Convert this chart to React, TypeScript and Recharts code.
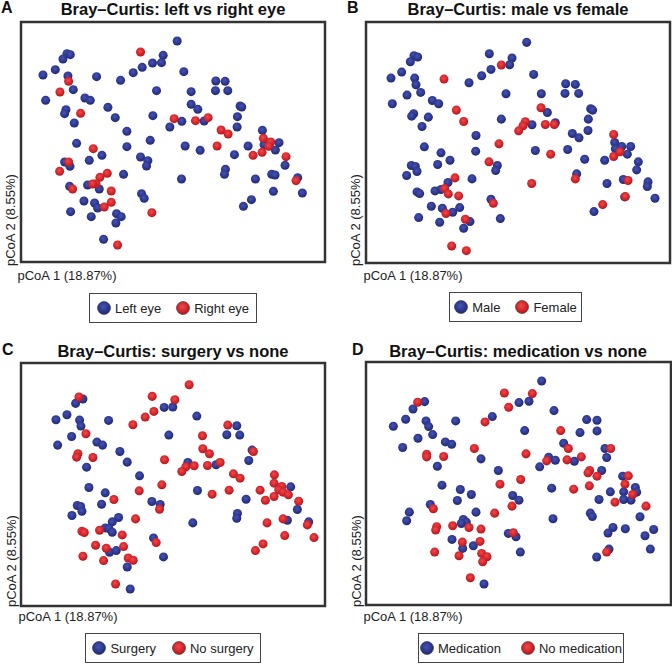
import React from "react";
import { Legend, ReferenceArea, Scatter, ScatterChart, XAxis, YAxis, ZAxis } from "recharts";

type Pt = [number, number];

// PCoA scores [pcoA 1, pcoA 2] (arbitrary units)
const leftEye: Pt[] = [
  [31, 328], [-11, 285], [-16, 263], [-43, 262], [-74, 249], [-101, 233], [-139, 210], [-211, 221],
  [51, 236], [-300, 290], [-290, 287], [-312, 274], [-335, 242], [-372, 226], [-297, 223], [-281, 182],
  [-364, 150], [-246, 157], [-230, 150], [-303, 122], [-307, 110], [-177, 129], [-278, 82], [-155, 98],
  [-31, 179], [73, 176], [147, 208], [175, 207], [146, 179], [183, 179], [73, 138], [93, 123],
  [220, 133], [225, 130], [212, 101], [112, 88], [45, 87], [9, 70], [-42, 104], [-120, 57],
  [211, 70], [287, 60], [292, 17], [337, 23], [326, 1], [244, 13], [55, 13], [100, 0],
  [203, -13], [355, -45], [176, -57], [173, -72], [315, -72], [325, -74], [266, -86], [393, -82],
  [320, -123], [407, -128], [254, -148], [230, -168], [44, -86], [-50, 30], [-120, 11], [-79, -20],
  [-57, -31], [-61, -47], [-130, -72], [-76, -130], [-68, -144], [-271, 21], [-195, -15], [-233, -30],
  [-307, -35], [-291, -48], [-238, -104], [-292, -108], [-203, -116], [-249, -152], [-217, -158], [-208, -173],
  [-289, -184], [-227, -199], [-151, -190], [-137, -199], [-153, -218], [-190, -267],
];
const rightEye: Pt[] = [
  [-79, 295], [-295, 207], [-321, 175], [-259, 111], [124, 98], [86, 89], [22, 95], [163, 61],
  [184, 49], [290, 36], [312, 25], [306, 12], [286, -6], [151, 13], [259, -15], [358, -19],
  [388, -91], [-45, -187], [-221, 5], [-295, -35], [-322, -63], [-179, -69], [-201, -81], [-213, -100],
  [-223, -101], [-283, -116], [-167, -122], [-188, -170], [-167, -156], [-148, -284],
];

const male: Pt[] = [
  [72, 322], [-40, 288], [28, 275], [21, 255], [-35, 241], [-63, 222], [-101, 201], [93, 226],
  [-266, 282], [-255, 278], [-277, 264], [-303, 233], [-335, 215], [-264, 215], [-260, 195], [-246, 172],
  [-287, 164], [-331, 138], [-211, 148], [-192, 138], [-267, 108], [-273, 101], [-223, 98], [-242, 70],
  [10, 168], [-4, 92], [189, 198], [218, 196], [187, 169], [228, 169], [116, 168], [134, 112],
  [264, 123], [270, 119], [257, 92], [88, 75], [158, 81], [-80, 43], [209, 49], [229, 36],
  [256, 58], [336, 22], [357, 10], [384, 10], [338, 3], [374, -13], [306, -31], [98, -2],
  [195, 1], [246, -28], [407, -36], [402, -60], [-81, -4], [-16, -47], [-21, -62], [-92, -87],
  [-235, 9], [-185, -9], [-195, -44], [-158, -31], [-274, -47], [-262, -50], [-257, -65], [-288, -77],
  [-164, -98], [-185, -119], [-203, -123], [-257, -126], [-249, -131], [222, -72], [313, -101], [362, -89],
  [436, -96], [434, -110], [366, -141], [457, -145], [274, -185], [-35, -148], [-7, -206], [-214, -169],
  [-181, -175], [-150, -187], [-129, -173], [-252, -203], [-189, -217], [-98, -215], [-117, -235],
];
const female: Pt[] = [
  [-4, 254], [-176, 212], [-139, 119], [-117, 85], [115, 126], [68, 84], [61, 72], [48, 57],
  [128, 76], [155, 76], [333, 46], [352, -6], [333, -20], [144, -13], [-11, 18], [-41, -36],
  [-143, -84], [-174, -116], [-163, -132], [-132, -138], [87, -101], [218, -87], [376, -92], [368, -140],
  [300, -164], [-28, -160], [-170, -191], [-112, -208], [-153, -288], [-109, -302],
];

const surgery: Pt[] = [
  [-8, 217], [18, 218], [-175, 178], [90, 191], [-252, 242], [-274, 229], [-300, 195], [-333, 180],
  [-262, 179], [-258, 161], [-286, 130], [-328, 104], [-210, 113], [-193, 104], [-141, 85], [-119, 53],
  [-241, 38], [6, 134], [210, 162], [180, 135], [219, 134], [256, 89], [246, 58], [63, 52],
  [148, 45], [-82, 12], [372, -21], [92, -32], [238, -58], [392, -89], [-45, -65], [-20, -74],
  [-234, -23], [-185, -39], [-196, -73], [-269, -77], [-259, -80], [-255, -94], [-285, -107], [-145, -113],
  [-164, -126], [-185, -144], [-174, -146], [-164, -157], [212, -101], [210, -115], [78, -129], [362, -121],
  [426, -126], [-40, -174], [-10, -231], [-172, -217], [-152, -212], [-119, -261], [-110, -327],
];
const noSurgery: Pt[] = [
  [67, 285], [-44, 250], [24, 240], [-39, 205], [-65, 188], [-102, 165], [-264, 248], [-243, 138],
  [-267, 78], [-271, 68], [-222, 67], [-7, 60], [183, 164], [107, 132], [108, 93], [128, 78],
  [260, 85], [82, 42], [57, 39], [45, 25], [122, 43], [160, 52], [200, 18], [220, 5],
  [323, 15], [322, -10], [345, -20], [336, -30], [349, -37], [365, -45], [322, -50], [136, -43],
  [187, -31], [280, -31], [296, -61], [396, -64], [-15, -15], [-83, -33], [-22, -88], [-94, -117],
  [-159, -59], [-202, -151], [-134, -165], [-255, -154], [-248, -158], [301, -129], [349, -117], [422, -135],
  [354, -167], [442, -173], [289, -192], [266, -212], [-32, -188], [-214, -196], [-182, -205], [-130, -200],
  [-252, -229], [-190, -242], [-116, -234], [-101, -241], [-154, -312],
];

const medication: Pt[] = [
  [117, 298], [49, 233], [79, 237], [-31, 191], [-141, 178], [154, 209], [-234, 236], [-269, 214],
  [-291, 183], [-328, 162], [-230, 178], [-222, 161], [-210, 137], [-254, 126], [-300, 98], [-172, 115],
  [-153, 108], [-65, 64], [-196, 42], [66, 149], [252, 182], [283, 180], [232, 143], [283, 148],
  [183, 111], [307, 95], [312, 68], [138, 69], [158, 60], [215, 57], [111, 40], [-13, 29],
  [297, 29], [360, 12], [398, -22], [402, -36], [363, -35], [385, -60], [323, -35], [363, -58],
  [289, -58], [412, -110], [147, -24], [-182, -15], [-127, -28], [-94, -43], [-136, -61], [30, -46],
  [49, -60], [-80, -96], [-217, -73], [-280, -96], [-288, -122], [151, -116], [263, -99], [269, -109],
  [-118, -118], [-109, -126], [-124, -130], [331, -142], [368, -146], [316, -159], [453, -148], [427, -167],
  [443, -207], [17, -160], [40, -170], [-152, -178], [-88, -197], [-120, -205], [53, -216], [319, -207],
  [282, -231], [-56, -312],
];
const noMedication: Pt[] = [
  [5, 262], [89, 260], [18, 219], [-53, 175], [-255, 234], [-228, 78], [-228, 70], [-177, 71],
  [-85, 95], [70, 79], [174, 149], [197, 95], [324, 95], [132, 58], [193, 61], [236, 70],
  [261, 29], [256, 22], [283, 12], [377, 13], [367, -12], [390, -43], [337, -66], [430, -78],
  [260, -17], [213, -27], [54, 2], [-8, -12], [28, -78], [-24, -99], [-208, -86], [-150, -137],
  [-101, -142], [-65, -147], [-198, -140], [-201, -150], [32, -158], [-121, -186], [-68, -184], [-204, -216],
  [-131, -227], [-63, -220], [-47, -230], [-60, -245], [312, -216], [-97, -293],
];

const FONT = '"Liberation Sans", Arial, Helvetica, sans-serif';

interface PanelProps {
  left: number;
  top: number;
  letter: string;
  letterX: number;
  title: string;
  titleX: number;
  baseline: number;
  blue: Pt[];
  red: Pt[];
  blueName: string;
  redName: string;
  xDomain: [number, number];
  yDomain: [number, number];
  margin: { top: number; right: number; bottom: number; left: number };
  yLabelX: number;
  yLabelBottom: number;
  xLabelX: number;
  xLabelTop: number;
  legendBox: { x: number; y: number; w: number; gap: number };
}

// legend keeps the series order (blue first), not alphabetical
const makeLegend = (order: string[], gap: number) => (props: any) => {
  const items = [...(props.payload || [])].sort(
    (a: any, b: any) => order.indexOf(a.value) - order.indexOf(b.value)
  );
  return (
    <div
      style={{
        boxSizing: "border-box",
        width: "100%",
        height: "100%",
        border: "1px solid #444",
        background: "#fff",
        display: "flex",
        alignItems: "center",
        justifyContent: "center",
        gap,
        fontFamily: FONT,
        fontSize: 13,
        color: "#222",
        whiteSpace: "nowrap",
      }}
    >
      {items.map((entry: any) => (
        <span key={entry.value} style={{ display: "flex", alignItems: "center" }}>
          <svg width={14} height={14} style={{ marginRight: 4 }}>
            <circle cx={7} cy={7} r={6.5} fill={entry.color} stroke="#333" strokeWidth={0.6} />
          </svg>
          {entry.value}
        </span>
      ))}
    </div>
  );
};

const Panel: React.FC<PanelProps> = (p) => {
  const blueData = p.blue.map(([x, y]) => ({ x, y }));
  const redData = p.red.map(([x, y]) => ({ x, y }));
  return (
    <div style={{ position: "absolute", left: p.left, top: p.top, width: 336, height: 334, fontFamily: FONT }}>
      <ScatterChart width={336} height={334} margin={p.margin}>
        <XAxis type="number" dataKey="x" domain={p.xDomain} allowDataOverflow hide />
        <YAxis type="number" dataKey="y" domain={p.yDomain} allowDataOverflow hide />
        <ZAxis range={[40, 40]} />
        <ReferenceArea
          x1={p.xDomain[0]}
          x2={p.xDomain[1]}
          y1={p.yDomain[0]}
          y2={p.yDomain[1]}
          fill="none"
          stroke="#333"
          strokeWidth={2.5}
          ifOverflow="visible"
        />
        <Scatter name={p.blueName} data={blueData} fill="url(#dotBlue)" shape="circle" isAnimationActive={false} />
        <Scatter name={p.redName} data={redData} fill="url(#dotRed)" shape="circle" isAnimationActive={false} />
        <Legend
          layout="horizontal"
          verticalAlign="middle"
          align="center"
          wrapperStyle={{ left: p.legendBox.x, top: p.legendBox.y, width: p.legendBox.w, height: 30 }}
          content={makeLegend([p.blueName, p.redName], p.legendBox.gap)}
        />
      </ScatterChart>
      <div
        style={{
          position: "absolute",
          left: p.letterX,
          top: Math.max(0, p.baseline - 15),
          fontSize: 16,
          fontWeight: "bold",
          lineHeight: 1,
          color: "#111",
        }}
      >
        {p.letter}
      </div>
      <div
        style={{
          position: "absolute",
          left: p.titleX - 160,
          width: 320,
          top: p.baseline - 14,
          textAlign: "center",
          fontSize: 16.5,
          fontWeight: "bold",
          lineHeight: 1,
          color: "#111",
          whiteSpace: "nowrap",
        }}
      >
        {p.title}
      </div>
      <div
        style={{
          position: "absolute",
          left: p.yLabelX,
          top: p.yLabelBottom,
          transform: "rotate(-90deg)",
          transformOrigin: "0 0",
          fontSize: 13,
          lineHeight: 1,
          color: "#222",
          whiteSpace: "nowrap",
        }}
      >
        pCoA 2 (8.55%)
      </div>
      <div
        style={{
          position: "absolute",
          left: p.xLabelX,
          top: p.xLabelTop,
          fontSize: 13,
          lineHeight: 1,
          color: "#222",
          whiteSpace: "nowrap",
        }}
      >
        pCoA 1 (18.87%)
      </div>
    </div>
  );
};

const App: React.FC = () => (
  <div style={{ position: "absolute", left: 0, top: 0, width: 672, height: 664, background: "#fff", overflow: "hidden" }}>
    <svg width={0} height={0} style={{ position: "absolute" }}>
      <defs>
        <radialGradient id="dotBlue" cx="45%" cy="40%" r="60%">
          <stop offset="0%" stopColor="#4653b5" />
          <stop offset="100%" stopColor="#1f2876" />
        </radialGradient>
        <radialGradient id="dotRed" cx="45%" cy="40%" r="60%">
          <stop offset="0%" stopColor="#f5474a" />
          <stop offset="100%" stopColor="#b8141b" />
        </radialGradient>
      </defs>
    </svg>
    <Panel
      left={0}
      top={0}
      letter="A"
      letterX={1}
      title="Bray–Curtis: left vs right eye"
      titleX={173}
      baseline={15}
      blue={leftEye}
      red={rightEye}
      blueName="Left eye"
      redName="Right eye"
      xDomain={[-438, 475]}
      yDomain={[-335, 385]}
      margin={{ top: 22, right: 11, bottom: 72, left: 21 }}
      yLabelX={4}
      yLabelBottom={265.5}
      xLabelX={17.5}
      xLabelTop={269}
      legendBox={{ x: 89, y: 293, w: 168, gap: 15 }}
    />
    <Panel
      left={336}
      top={0}
      letter="B"
      letterX={11}
      title="Bray–Curtis: male vs female"
      titleX={182}
      baseline={15}
      blue={male}
      red={female}
      blueName="Male"
      redName="Female"
      xDomain={[-410, 502]}
      yDomain={[-339, 383]}
      margin={{ top: 22, right: 2, bottom: 71, left: 30 }}
      yLabelX={13}
      yLabelBottom={265.5}
      xLabelX={27.5}
      xLabelTop={269}
      legendBox={{ x: 113, y: 292, w: 133, gap: 15 }}
    />
    <Panel
      left={0}
      top={330}
      letter="C"
      letterX={2}
      title="Bray–Curtis: surgery vs none"
      titleX={173}
      baseline={26.5}
      blue={surgery}
      red={noSurgery}
      blueName="Surgery"
      redName="No surgery"
      xDomain={[-438, 475]}
      yDomain={[-378, 350]}
      margin={{ top: 33, right: 11, bottom: 58, left: 21 }}
      yLabelX={5}
      yLabelBottom={277}
      xLabelX={18.5}
      xLabelTop={279.5}
      legendBox={{ x: 85, y: 303, w: 176, gap: 16 }}
    />
    <Panel
      left={336}
      top={330}
      letter="D"
      letterX={16}
      title="Bray–Curtis: medication vs none"
      titleX={182}
      baseline={26.5}
      blue={medication}
      red={noMedication}
      blueName="Medication"
      redName="No medication"
      xDomain={[-410, 505]}
      yDomain={[-375, 355]}
      margin={{ top: 32, right: 1, bottom: 59, left: 30 }}
      yLabelX={13.5}
      yLabelBottom={277}
      xLabelX={27.5}
      xLabelTop={279.5}
      legendBox={{ x: 82, y: 303, w: 206, gap: 20 }}
    />
  </div>
);

export default App;
